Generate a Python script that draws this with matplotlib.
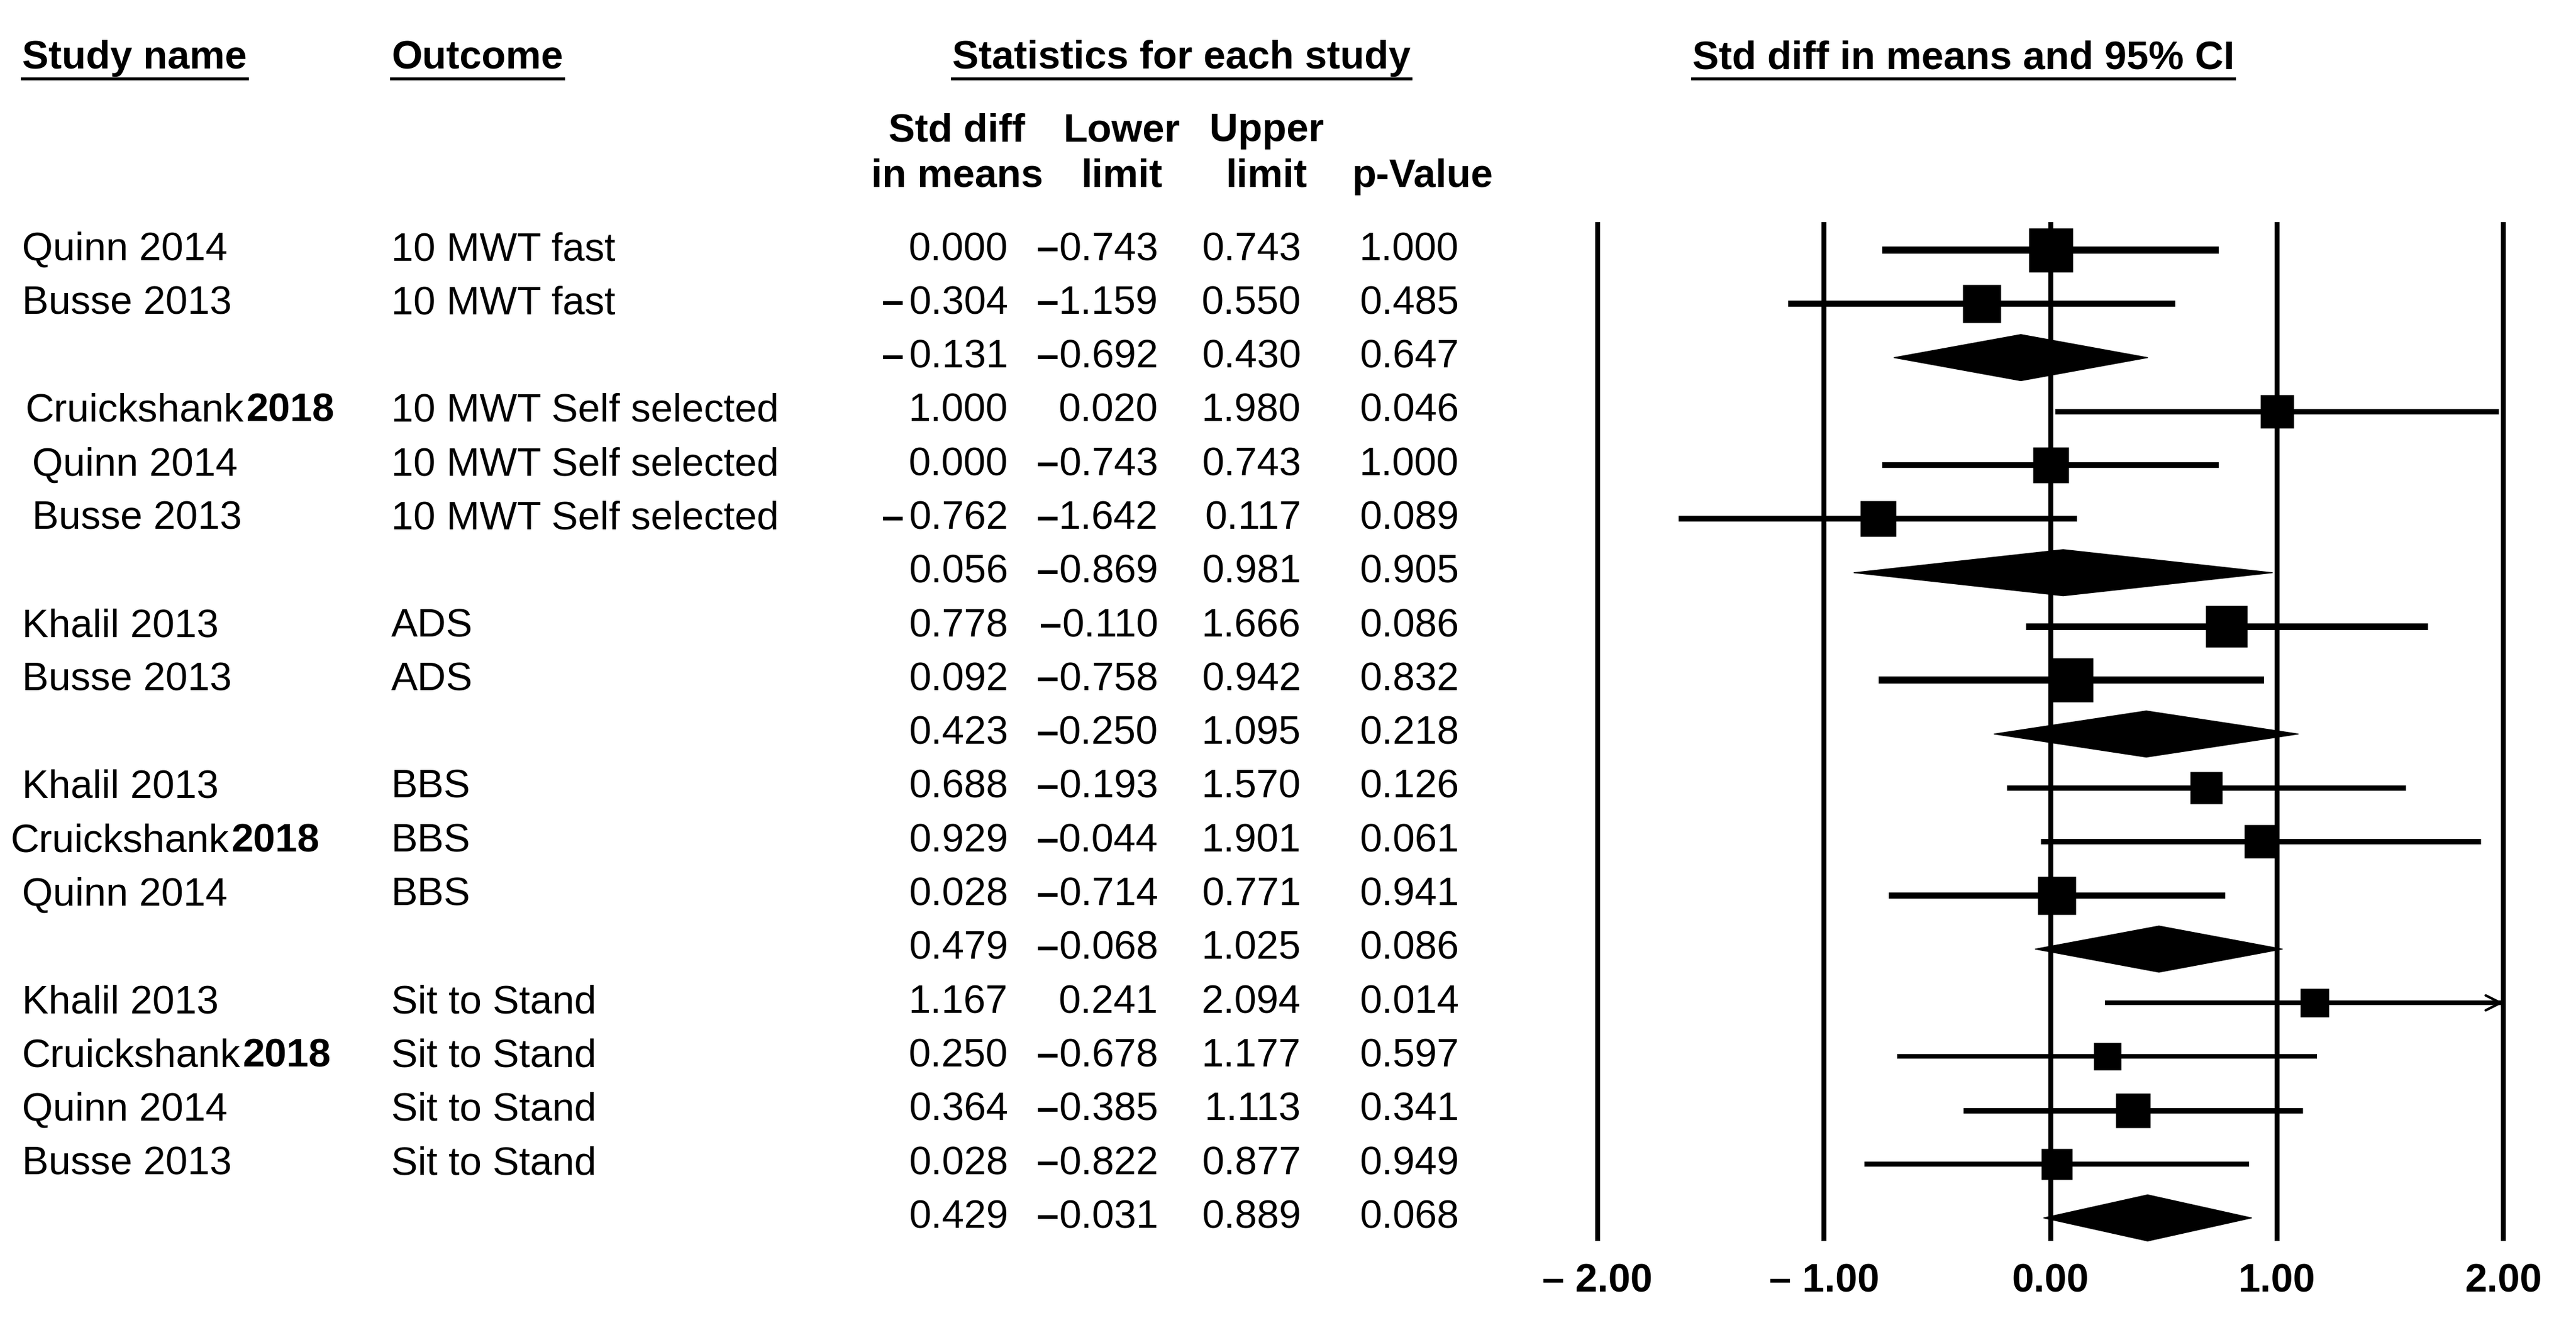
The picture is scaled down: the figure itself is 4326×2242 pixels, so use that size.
import matplotlib.pyplot as plt
from matplotlib.patches import Polygon

plt.rcParams["font.family"] = ["Liberation Sans", "DejaVu Sans"]

# Data (pooled rows have an empty study name)
study = ["Quinn 2014", "Busse 2013", "",
         "Cruickshank 2018", "Quinn 2014", "Busse 2013", "",
         "Khalil 2013", "Busse 2013", "",
         "Khalil 2013", "Cruickshank 2018", "Quinn 2014", "",
         "Khalil 2013", "Cruickshank 2018", "Quinn 2014", "Busse 2013", ""]
outcome = ["10 MWT fast", "10 MWT fast", "",
           "10 MWT Self selected", "10 MWT Self selected", "10 MWT Self selected", "",
           "ADS", "ADS", "",
           "BBS", "BBS", "BBS", "",
           "Sit to Stand", "Sit to Stand", "Sit to Stand", "Sit to Stand", ""]
smd = [0.000, -0.304, -0.131,
       1.000, 0.000, -0.762, 0.056,
       0.778, 0.092, 0.423,
       0.688, 0.929, 0.028, 0.479,
       1.167, 0.250, 0.364, 0.028, 0.429]
lower = [-0.743, -1.159, -0.692,
         0.020, -0.743, -1.642, -0.869,
         -0.110, -0.758, -0.250,
         -0.193, -0.044, -0.714, -0.068,
         0.241, -0.678, -0.385, -0.822, -0.031]
upper = [0.743, 0.550, 0.430,
         1.980, 0.743, 0.117, 0.981,
         1.666, 0.942, 1.095,
         1.570, 1.901, 0.771, 1.025,
         2.094, 1.177, 1.113, 0.877, 0.889]
pval = [1.000, 0.485, 0.647,
        0.046, 1.000, 0.089, 0.905,
        0.086, 0.832, 0.218,
        0.126, 0.061, 0.941, 0.086,
        0.014, 0.597, 0.341, 0.949, 0.068]
ticks = [-2, -1, 0, 1, 2]
tick_labels = ["\u2013 2.00", "\u2013 1.00", "0.00", "1.00", "2.00"]

# style: square size in pixels (study weight), small indent of names
box_px = [75, 65, 0, 57, 60, 60, 0, 70, 75, 0, 55, 57, 65, 0, 48, 47, 58, 53, 0]
name_dx = [0, 0, 0, 6, 17, 17, 0, 0, 0, 0, 0, -19, 0, 0, 0, 0, 0, 0, 0]

W, H = 4326, 2242
row0, step = 420, 90.3


def ypx(p):
    return (p - row0) / step


fs = 48
fig = plt.figure(figsize=(W / 100, H / 100), dpi=100)
ax = fig.add_axes([0, 0, 1, 1])
ax.set_xlim(0, W)
ax.set_ylim(ypx(H), ypx(0))
ax.axis("off")


def number(x, y, v, gap=0):
    # right-aligned value, negative sign drawn as a heavy dash in front
    t = ax.text(x, y, f"{abs(v):.3f}", fontsize=fs, va="center", ha="right")
    if v < 0:
        ax.annotate("\u2013", xy=(0, 0.5), xycoords=t, xytext=(-gap, 0),
                    textcoords="offset points", fontsize=fs, fontweight="bold",
                    ha="right", va="center")


# headers
heads = []
heads.append(ax.text(37, ypx(115), "Study name", fontsize=fs, fontweight="bold", va="baseline"))
heads.append(ax.text(657, ypx(115), "Outcome", fontsize=fs, fontweight="bold", va="baseline"))
heads.append(ax.text(1984, ypx(115), "Statistics for each study", fontsize=fs,
                     fontweight="bold", va="baseline", ha="center"))
heads.append(ax.text(3297, ypx(115), "Std diff in means and 95% CI", fontsize=fs,
                     fontweight="bold", va="baseline", ha="center"))

sub = [(1607, "Std diff", "in means"), (1884, "Lower", "limit"),
       (2127, "Upper", "limit"), (2389, "", "p-Value")]
for x, l1, l2 in sub:
    ax.text(x, ypx(220), l1, fontsize=fs, fontweight="bold", ha="center", va="center")
    ax.text(x, ypx(297), l2, fontsize=fs, fontweight="bold", ha="center", va="center")

# table rows
for i in range(len(smd)):
    if study[i]:
        nx = 37 + name_dx[i]
        if study[i].startswith("Cruickshank"):
            t = ax.text(nx, i, "Cruickshank", fontsize=fs, va="center")
            ax.annotate("2018", xy=(1, 0), xycoords=t, xytext=(3, 0),
                        textcoords="offset points", fontsize=fs, fontweight="bold",
                        ha="left", va="bottom")
        else:
            ax.text(nx, i, study[i], fontsize=fs, va="center")
        ax.text(657, i, outcome[i], fontsize=fs, va="center")
    number(1693, i, smd[i], gap=6)
    number(1945, i, lower[i], gap=0)
    number(2185, i, upper[i])
    ax.text(2450, i, f"{pval[i]:.3f}", fontsize=fs, va="center", ha="right")

# forest plot axes
unit = (4204 - 2683) / 4
left_px = 2683 - 0.2 * unit
ax2 = fig.add_axes([left_px / W, 0, 4.4 * unit / W, 1])
ax2.set_xlim(-2.2, 2.2)
ax2.set_ylim(ypx(H), ypx(0))
ax2.axis("off")

ax2.vlines(ticks, ypx(373), ypx(2084), color="black", lw=6)
for t, lab in zip(ticks, tick_labels):
    ax2.text(t, ypx(2152), lab, fontsize=fs, fontweight="bold", ha="center", va="center")

for i in range(len(smd)):
    hi = min(upper[i], 2)
    if box_px[i]:
        ax2.plot([lower[i], hi], [i, i], color="black",
                 lw=box_px[i] * 0.16 / 1.389, solid_capstyle="butt")
        ax2.plot(smd[i], i, marker="s", ms=box_px[i] / 1.389, color="black", mec="none")
        if upper[i] > 2:
            ax2.annotate("", xy=(2, i), xytext=(1.85, i),
                         arrowprops=dict(arrowstyle="->", lw=3, mutation_scale=45,
                                         color="black", shrinkA=0, shrinkB=0))
    else:
        h = 0.43
        ax2.add_patch(Polygon([(lower[i], i), (smd[i], i - h), (hi, i), (smd[i], i + h)],
                              closed=True, color="black"))

# underline the headers
fig.canvas.draw()
for t in heads:
    bb = t.get_window_extent()
    ax.plot([bb.x0, bb.x1], [ypx(132), ypx(132)], color="black", lw=3.5)

fig.savefig("out.png", dpi=100)
